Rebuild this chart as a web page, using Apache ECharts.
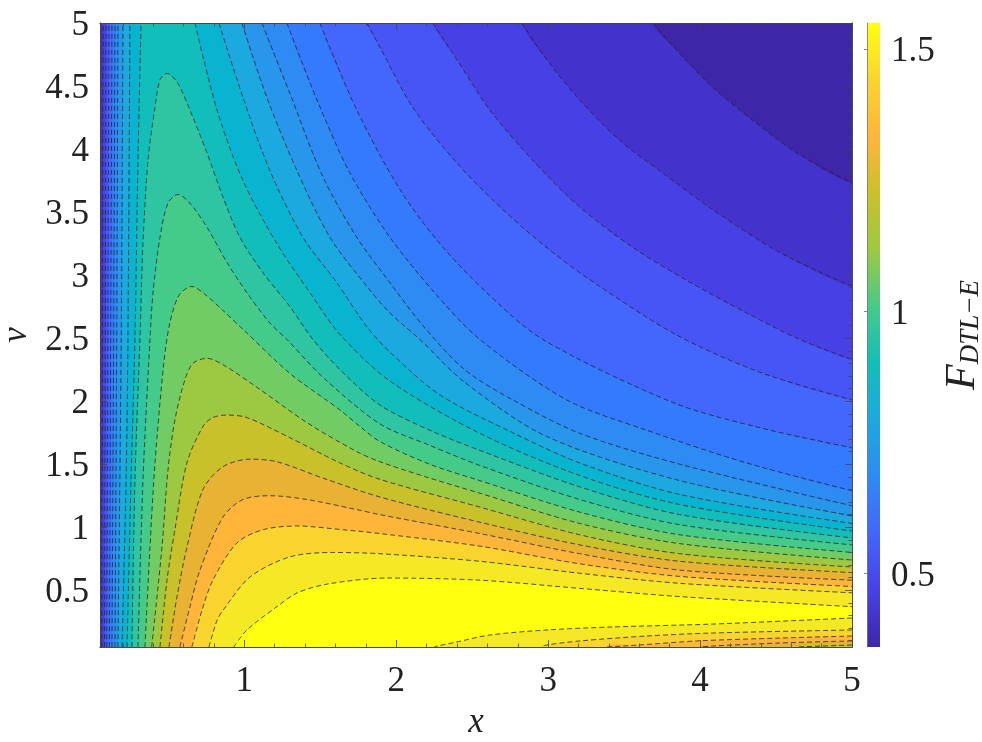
<!DOCTYPE html>
<html><head><meta charset="utf-8">
<script src="https://cdn.jsdelivr.net/npm/echarts@6/dist/echarts.min.js"></script>
<style>html,body{margin:0;padding:0;background:#fff}#c{width:982px;height:742px}</style>
</head><body><div id="c"></div>
<script>
// Tick labels
const xTickValues = [1, 2, 3, 4, 5];
const vTickValues = [0.5, 1, 1.5, 2, 2.5, 3, 3.5, 4, 4.5, 5];
const xMinorValues = [0.2,0.4,0.6,0.8,1.2,1.4,1.6,1.8,2.2,2.4,2.6,2.8,3.2,3.4,3.6,3.8,4.2,4.4,4.6,4.8];
const vMinorValues = [0.1,0.2,0.3,0.4,0.6,0.7,0.8,0.9,1.1,1.2,1.3,1.4,1.6,1.7,1.8,1.9,2.1,2.2,2.3,2.4,2.6,2.7,2.8,2.9,3.1,3.2,3.3,3.4,3.6,3.7,3.8,3.9,4.1,4.2,4.3,4.4,4.6,4.7,4.8,4.9];
const colorbarTicks = [0.5, 1, 1.5];
const colorbarRange = [0.36, 1.55];

// Colours of the filled bands, lowest first
const bandColors = ['#3E26A8','#4332CB','#4741E5','#4855F5','#4366FD','#337BFC','#2D8BF3','#2796EB','#1CA9DF','#08B4D0','#12BEB9','#2FC5A2','#45CB89','#71CC64','#9DC942','#C9C12A','#E8B233','#FFB53A','#FAD42E','#F5E825','#FFFF10'];
const colorbarStops = ['#3E26A8','#4741E5','#4366FD','#2D8BF3','#1CA9DF','#12BEB9','#45CB89','#9DC942','#C9C12A','#FFB53A','#FAD42E','#FFFF10'];

// Contours as [x, v]. L1..L10 are open at the top edge,
// T1..T10 turn round at a tip. "Left" parts run bottom to top, others end at x = 5.
const L1 = [[3.69,5],[3.865,4.76],[4.083,4.49],[4.345,4.23],[4.635,3.97],[5,3.73]];
const L2 = [[2.826,5],[2.99,4.71],[3.208,4.39],[3.471,4.07],[3.754,3.81],[4.083,3.52],[4.524,3.18],[5,2.91]];
const L3 = [[2.241,5],[2.399,4.71],[2.616,4.31],[2.899,3.91],[3.208,3.54],[3.557,3.22],[3.91,2.96],[4.306,2.7],[4.655,2.49],[5,2.33]];
const L4 = [[1.807,5],[1.892,4.81],[2.109,4.33],[2.399,3.89],[2.702,3.52],[3.03,3.18],[3.34,2.91],[3.846,2.525],[4.392,2.23],[5,2.01]];
const L5 = [[1.497,5],[1.74,4.31],[2.024,3.68],[2.287,3.25],[2.596,2.86],[2.964,2.49],[3.82,1.99],[4.392,1.79],[5,1.63]];
const L6 = [[1.28,5],[1.478,4.39],[1.695,3.81],[1.958,3.3],[2.267,2.84],[2.55,2.49],[3.122,2.01],[3.648,1.77],[4.306,1.51],[5,1.29]];
const L7 = [[1.116,5],[1.3,4.44],[1.517,3.78],[1.74,3.3],[1.958,2.94],[2.175,2.6],[2.45,2.25],[2.767,2.01],[3.208,1.745],[3.866,1.5],[5,1.17]];
const L8 = [[0.984,5],[1.148,4.41],[1.346,3.83],[1.563,3.3],[1.807,2.91],[1.958,2.7],[2.155,2.49],[2.45,2.15],[2.99,1.72],[3.866,1.37],[5,1.09]];
const L9 = [[0.833,5],[0.991,4.41],[1.168,3.83],[1.386,3.3],[1.609,2.94],[1.807,2.59],[1.958,2.39],[2.287,2.05],[2.767,1.75],[3.208,1.51],[3.866,1.26],[5,1.03]];
const L10 = [[0.675,5],[0.82,4.31],[0.991,3.75],[1.214,3.25],[1.432,2.86],[1.629,2.53],[1.958,2.16],[2.55,1.745],[3.208,1.41],[3.866,1.18],[5,0.97]];
const L2Left = [[0.063,0.05],[0.07,5]];
const L3Left = [[0.08,0.05],[0.09,5]];
const L4Left = [[0.095,0.05],[0.109,5]];
const L5Left = [[0.112,0.05],[0.129,5]];
const L6Left = [[0.129,0.05],[0.14,2.49],[0.149,5]];
const L7Left = [[0.149,0.05],[0.16,2.49],[0.168,5]];
const L8Left = [[0.168,0.05],[0.19,2.49],[0.201,5]];
const L9Left = [[0.195,0.05],[0.222,1.4],[0.234,2.49],[0.247,5]];
const L10Left = [[0.228,0.05],[0.255,1.4],[0.28,2.49],[0.3,3.9],[0.32,5]];
const T1 = [[0.26,0.05],[0.28,1.375],[0.313,2.49],[0.333,3.25],[0.366,3.91],[0.412,4.33],[0.445,4.55],[0.491,4.6],[0.563,4.52],[0.662,4.25],[0.754,3.97],[0.859,3.62],[0.971,3.3],[1.122,3.02],[1.3,2.75],[1.451,2.49],[1.63,2.25],[1.892,1.97],[2.22,1.77],[2.55,1.61],[3.208,1.32],[3.866,1.1],[5,0.915]];
const T2 = [[0.3,0.05],[0.333,1.375],[0.379,2.49],[0.399,2.86],[0.445,3.3],[0.497,3.57],[0.563,3.64],[0.642,3.57],[0.754,3.38],[0.886,3.1],[1.017,2.86],[1.168,2.62],[1.28,2.49],[1.517,2.19],[1.892,1.82],[2.22,1.65],[2.55,1.49],[3.208,1.22],[3.866,1.02],[5,0.86]];
const T3 = [[0.346,0.05],[0.379,0.84],[0.412,1.51],[0.47,2.3],[0.51,2.62],[0.57,2.84],[0.655,2.91],[0.728,2.86],[0.859,2.72],[1.0,2.56],[1.3,2.22],[1.63,1.93],[1.76,1.8],[1.892,1.68],[2.22,1.5],[2.55,1.37],[3.208,1.12],[3.866,0.94],[5,0.8]];
const T4 = [[0.39,0.05],[0.458,0.84],[0.497,1.45],[0.543,1.85],[0.609,2.17],[0.662,2.3],[0.754,2.34],[0.859,2.29],[1.083,2.11],[1.412,1.83],[1.74,1.6],[1.892,1.52],[2.22,1.39],[2.55,1.27],[3.208,1.03],[3.866,0.87],[5,0.74]];
const T5 = [[0.445,0.05],[0.491,0.58],[0.543,0.98],[0.622,1.51],[0.728,1.8],[0.793,1.87],[0.885,1.89],[1.017,1.87],[1.3,1.71],[1.63,1.51],[1.892,1.38],[2.55,1.16],[3.208,0.94],[3.866,0.79],[5,0.685]];
const T6 = [[0.504,0.05],[0.557,0.45],[0.622,0.84],[0.728,1.3],[0.859,1.48],[1.037,1.54],[1.214,1.52],[1.517,1.39],[1.892,1.24],[2.55,1.04],[3.208,0.86],[3.866,0.73],[5,0.64]];
const T7 = [[0.576,0.05],[0.642,0.37],[0.708,0.66],[0.859,1.08],[0.991,1.22],[1.168,1.25],[1.412,1.22],[1.74,1.14],[1.892,1.1],[2.55,0.95],[3.208,0.79],[3.866,0.66],[5,0.58]];
const T8 = [[0.655,0.05],[0.721,0.34],[0.793,0.58],[0.951,0.875],[1.122,0.98],[1.345,1.01],[1.651,0.98],[1.892,0.95],[2.55,0.85],[3.208,0.71],[3.866,0.61],[5,0.53]];
const T9 = [[0.767,0.05],[0.82,0.26],[0.859,0.34],[1.037,0.605],[1.3,0.765],[1.583,0.8],[1.892,0.79],[2.55,0.73],[3.208,0.635],[3.866,0.555],[5,0.48]];
const T10 = [[0.93,0.05],[1.017,0.185],[1.214,0.37],[1.35,0.48],[1.55,0.55],[1.937,0.597],[2.55,0.58],[3.208,0.515],[3.866,0.45],[5,0.37]];
const T6Low = [[5,0.066],[4.635,0.05]];
const T7Low = [[5,0.098],[4.524,0.082],[4.083,0.058],[4.0,0.05]];
const T8Low = [[5,0.137],[4.524,0.121],[3.977,0.098],[3.6,0.066],[3.385,0.05]];
const T9Low = [[5,0.185],[4.083,0.161],[3.648,0.137],[3.208,0.098],[2.99,0.066],[2.95,0.05]];
const T10Low = [[5,0.28],[4.083,0.232],[3.425,0.209],[2.99,0.185],[2.616,0.145],[2.399,0.09],[2.27,0.058],[2.25,0.05]];

const farLow = -0.4, farHigh = 5.4;
const openLevels = [[null,L1],[L2Left,L2],[L3Left,L3],[L4Left,L4],[L5Left,L5],[L6Left,L6],[L7Left,L7],[L8Left,L8],[L9Left,L9],[L10Left,L10]];
const tipLevels = [[T1],[T2],[T3],[T4],[T5],[T6,T6Low],[T7,T7Low],[T8,T8Low],[T9,T9Low],[T10,T10Low]];

function openRing(left, right) {
  const end = right[right.length - 1];
  const lx0 = left ? left[0][0] : farLow, lx1 = left ? left[left.length - 1][0] : farLow;
  return [...(left || []), [lx1, farHigh], [right[0][0], farHigh], ...right, [farHigh, end[1]], [farHigh, farLow], [lx0, farLow]];
}
function tipRing(upper, lower) {
  const end = upper[upper.length - 1];
  if (lower) {
    return [...upper, [farHigh, end[1]], [farHigh, lower[0][1]], ...lower, [lower[lower.length - 1][0], farLow], [upper[0][0], farLow]];
  }
  return [...upper, [farHigh, end[1]], [farHigh, farLow], [upper[0][0], farLow]];
}
const baseRing = [[farLow, farLow], [farHigh, farLow], [farHigh, farHigh], [farLow, farHigh]];
const rings = [baseRing,
  ...openLevels.map(p => openRing(p[0], p[1])),
  ...tipLevels.map(p => tipRing(p[0], p[1]))];

function bandSeries(ring, i) {
  return {
    type: 'custom', coordinateSystem: 'cartesian2d', xAxisIndex: 0, yAxisIndex: 0,
    silent: true, animation: false, z: 2, data: ring,
    encode: { x: 0, y: 1 },
    renderItem: (params, api) => {
      if (params.dataIndex !== 0) return null;
      const cs = params.coordSys;
      return {
        type: 'polygon',
        shape: { points: ring.map(p => api.coord(p)), smooth: 0.3 },
        style: { fill: bandColors[i], stroke: bandColors[i], lineWidth: 0.5 },
        clipPath: { type: 'rect', shape: { x: cs.x, y: cs.y, width: cs.width, height: cs.height } }
      };
    }
  };
}
const contourLines = [];
openLevels.forEach(p => { if (p[0]) contourLines.push(p[0]); contourLines.push(p[1]); });
tipLevels.forEach(p => { contourLines.push(p[0]); if (p[1]) contourLines.push(p[1]); });
function lineSeries(seg) {
  return {
    type: 'line', xAxisIndex: 0, yAxisIndex: 0, data: seg, showSymbol: false, silent: true, animation: false,
    smooth: 0.3, z: 3,
    lineStyle: { color: 'rgba(35,35,45,0.8)', width: 1, type: [5, 3] }
  };
}

const font = 'Liberation Serif';
const axisInk = '#444';
const base = { type: 'value', splitLine: { show: false }, z: 6 };
function xAx(position, ticks, len, extra) {
  return Object.assign({}, base, {
    gridIndex: 0, min: 0.05, max: 5, position,
    axisLine: { show: true, onZero: false, lineStyle: { color: axisInk, width: 0.8 } },
    axisTick: { show: true, inside: true, length: len, customValues: ticks, lineStyle: { color: axisInk, width: 0.8 } },
    axisLabel: { show: false }
  }, extra || {});
}
function yAx(position, ticks, len, extra) {
  return Object.assign({}, base, {
    gridIndex: 0, min: 0.05, max: 5, position,
    axisLine: { show: true, onZero: false, lineStyle: { color: axisInk, width: 0.8 } },
    axisTick: { show: true, inside: true, length: len, customValues: ticks, lineStyle: { color: axisInk, width: 0.8 } },
    axisLabel: { show: false }
  }, extra || {});
}
const labelStyle = { show: true, fontFamily: font, fontSize: 35, color: '#222' };
const loweredLabel = {
  formatter: v => '{t|' + v + '}',
  rich: { t: { fontFamily: font, fontSize: 35, color: '#222', padding: [6, 0, 0, 0] } }
};

const option = {
  backgroundColor: '#fff',
  animation: false,
  grid: [
    { left: 100, top: 23, width: 752, height: 624, outerBoundsMode: 'none' },
    { left: 867, top: 23, width: 13, height: 624, outerBoundsMode: 'none' }
  ],
  xAxis: [
    xAx('bottom', xTickValues, 7, {
      axisLabel: Object.assign({}, labelStyle, { customValues: xTickValues, margin: 17 }),
      name: 'x', nameLocation: 'middle', nameGap: 58,
      nameTextStyle: { fontFamily: font, fontStyle: 'italic', fontSize: 35, color: '#222' }
    }),
    xAx('top', xTickValues, 7),
    xAx('bottom', xMinorValues, 3.5),
    xAx('top', xMinorValues, 3.5),
    { type: 'value', gridIndex: 1, min: 0, max: 1, show: false }
  ],
  yAxis: [
    yAx('left', vTickValues, 7, {
      axisLabel: Object.assign({}, labelStyle, loweredLabel, { customValues: vTickValues, margin: 11 }),
      name: 'v', nameLocation: 'middle', nameGap: 65, nameRotate: 90,
      nameTextStyle: { fontFamily: font, fontStyle: 'italic', fontSize: 35, color: '#222' }
    }),
    yAx('right', vTickValues, 7),
    yAx('left', vMinorValues, 3.5),
    yAx('right', vMinorValues, 3.5),
    {
      type: 'value', gridIndex: 1, min: colorbarRange[0], max: colorbarRange[1], position: 'right',
      splitLine: { show: false }, z: 6,
      axisLine: { show: true, lineStyle: { color: '#777', width: 0.8 } },
      axisTick: { show: true, inside: true, length: 3, customValues: colorbarTicks, lineStyle: { color: '#666', width: 0.8 } },
      axisLabel: Object.assign({}, labelStyle, loweredLabel, { customValues: colorbarTicks, margin: 11 }),
      name: '{f|F}{s|DTL\u2212E}', nameLocation: 'middle', nameGap: 60, nameRotate: 90,
      nameTextStyle: {
        rich: {
          f: { fontFamily: font, fontStyle: 'italic', fontSize: 42, color: '#222', verticalAlign: 'bottom', lineHeight: 44 },
          s: { fontFamily: font, fontStyle: 'italic', fontSize: 27, color: '#222', verticalAlign: 'bottom', lineHeight: 26 }
        }
      }
    }
  ],
  series: [
    ...rings.map(bandSeries),
    ...contourLines.map(lineSeries),
    {
      type: 'custom', xAxisIndex: 4, yAxisIndex: 4, silent: true, animation: false, z: 2,
      data: [[0, colorbarRange[0], colorbarRange[1]]],
      encode: { x: 0, y: [1, 2] },
      renderItem: (params, api) => {
        const p0 = api.coord([0, api.value(1)]);
        const p1 = api.coord([1, api.value(2)]);
        return {
          type: 'rect',
          shape: { x: p0[0], y: p1[1], width: p1[0] - p0[0], height: p0[1] - p1[1] },
          style: {
            fill: new echarts.graphic.LinearGradient(0, 1, 0, 0,
              colorbarStops.map((c, i) => ({ offset: i / (colorbarStops.length - 1), color: c })))
          }
        };
      }
    }
  ]
};
const chart = echarts.init(document.getElementById('c'), null, { renderer: 'canvas' });
chart.setOption(option);
</script></body></html>
